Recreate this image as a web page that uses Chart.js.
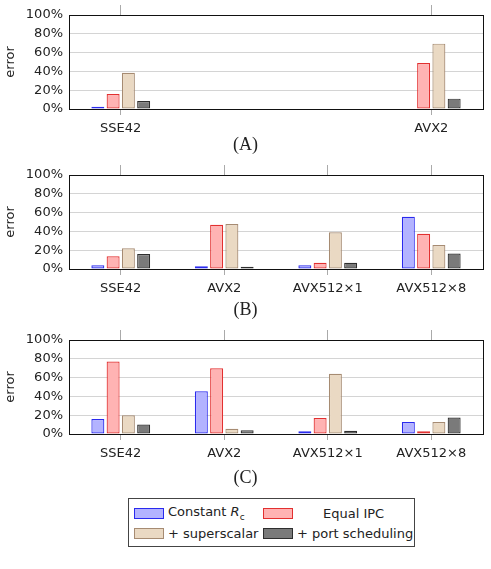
<!DOCTYPE html>
<html>
<head>
<meta charset="utf-8">
<script src="https://cdn.jsdelivr.net/npm/chart.js@4.4.0/dist/chart.umd.min.js"></script>
<style>
  body { margin: 0; background: #fff; width: 491px; height: 569px; position: relative; overflow: hidden; }
  .panel { position: absolute; left: 0; width: 491px; height: 150px; }
  .cap { position: absolute; left: 0; width: 491px; text-align: center; font-family: 'Liberation Serif', serif; font-size: 18px; color: #222; }
  #legend { position: absolute; left: 128px; top: 498px; width: 287px; height: 49px; box-sizing: border-box; border: 1px solid #444;
    font-family: 'DejaVu Sans', sans-serif; font-size: 13px; color: #222; }
  .item { position: absolute; display: flex; align-items: center; height: 18px; }
  .sw { width: 28px; height: 9px; border: 1px solid; margin-right: 4px; }
</style>
</head>
<body>
<div class="panel" style="top:0"><canvas id="chartA"></canvas></div>
<div class="cap" style="top:134px">(A)</div>
<div class="panel" style="top:160px"><canvas id="chartB"></canvas></div>
<div class="cap" style="top:299px">(B)</div>
<div class="panel" style="top:325px"><canvas id="chartC"></canvas></div>
<div class="cap" style="top:467px">(C)</div>
<div id="legend"></div>
<script>
// categories
const catsA = ['SSE42', '', '', 'AVX2'];
const catsBC = ['SSE42', 'AVX2', 'AVX512×1', 'AVX512×8'];
const yTicks = [0, 20, 40, 60, 80, 100];

const seriesNames = ['Constant', 'Equal IPC', '+ superscalar', '+ port scheduling'];

// (A) values in %, empty middle slots
const aConst = [2.5, null, null, 0.5];
const aIPC = [16, null, null, 49];
const aSuper = [38.5, null, null, 69.5];
const aPort = [8.5, null, null, 11];

// (B)
const bConst = [4, 3, 4, 55.5];
const bIPC = [13.5, 47, 6.7, 37.5];
const bSuper = [22, 47.8, 39, 25.5];
const bPort = [16, 2.5, 6.7, 16.5];

// (C)
const cConst = [16, 45.5, 2.8, 12.7];
const cIPC = [77, 70, 17, 3];
const cSuper = [20, 5.5, 64, 12.7];
const cPort = [10, 4, 3.5, 17.5];

const fills = ['#b3b3ff', '#ffb3b3', '#ead9c3', '#7a7a7a'];
const borders = ['#2a2aee', '#e23030', '#a68b72', '#2e2e2e'];

const FONT = 'DejaVu Sans';

// draws the black frame around the plot area
const framePlugin = {
  id: 'frame',
  afterDraw(chart) {
    const a = chart.chartArea, ctx = chart.ctx;
    ctx.save();
    ctx.strokeStyle = '#111';
    ctx.lineWidth = 1;
    ctx.strokeRect(Math.round(a.left) + 0.5, Math.round(a.top) + 0.5,
      Math.round(a.right - a.left), Math.round(a.bottom - a.top));
    ctx.restore();
  }
};

function makeChart(id, labels, sets) {
  const tickColor = ctx => (labels[ctx.index] ? '#aaa' : 'rgba(0,0,0,0)');
  new Chart(document.getElementById(id), {
    type: 'bar',
    data: {
      labels: labels,
      datasets: sets.map((d, i) => ({
        label: seriesNames[i],
        data: d,
        backgroundColor: fills[i],
        borderColor: borders[i],
        borderWidth: 1.2,
        borderSkipped: false,
        categoryPercentage: 0.59,
        barPercentage: 0.85,
        xAxisID: 'x'
      }))
    },
    options: {
      responsive: false,
      animation: false,
      layout: { padding: { top: 5, right: 8, left: 0, bottom: 11 } },
      plugins: { legend: { display: false }, tooltip: { enabled: false } },
      scales: {
        x: {
          position: 'bottom',
          grid: { offset: false, drawOnChartArea: false, drawTicks: true, tickLength: 6, color: tickColor },
          border: { display: false },
          ticks: { padding: 6, color: '#222', font: { family: FONT, size: 13 }, autoSkip: false, maxRotation: 0 },
          afterFit: s => { s.height = 30; }
        },
        xTop: {
          type: 'category',
          position: 'top',
          labels: labels,
          offset: true,
          grid: { offset: false, drawOnChartArea: false, drawTicks: true, tickLength: 10, color: tickColor },
          border: { display: false },
          ticks: { display: false },
          afterFit: s => { s.height = 10; }
        },
        y: {
          min: 0,
          max: 100,
          afterBuildTicks: s => { s.ticks = yTicks.map(v => ({ value: v })); },
          grid: { color: '#d4d4d4', drawTicks: false },
          border: { display: false },
          ticks: { padding: 6, color: '#222', font: { family: FONT, size: 13 }, callback: v => v + '%' },
          title: { display: true, text: 'error', color: '#222', font: { family: FONT, size: 13 }, padding: { top: 3, bottom: 0 } },
          afterFit: s => { s.width = 69; }
        }
      }
    },
    plugins: [framePlugin]
  });
}

function sizeCanvas(id) {
  const c = document.getElementById(id);
  c.width = 491; c.height = 150;
  c.style.width = '491px'; c.style.height = '150px';
}
['chartA', 'chartB', 'chartC'].forEach(sizeCanvas);

makeChart('chartA', catsA, [aConst, aIPC, aSuper, aPort]);
makeChart('chartB', catsBC, [bConst, bIPC, bSuper, bPort]);
makeChart('chartC', catsBC, [cConst, cIPC, cSuper, cPort]);

// legend, 2 x 2
const legendText = ['Constant <i>R</i><sub style="font-size:9px">c</sub>', 'Equal IPC', '+ superscalar', '+ port scheduling'];
const legendPos = [[5, 5], [134, 5], [5, 25], [134, 25]];
const legend = document.getElementById('legend');
legendText.forEach((t, i) => {
  const it = document.createElement('div');
  it.className = 'item';
  it.style.left = legendPos[i][0] + 'px';
  it.style.top = legendPos[i][1] + 'px';
  const sw = document.createElement('div');
  sw.className = 'sw';
  sw.style.background = fills[i];
  sw.style.borderColor = borders[i];
  const lbl = document.createElement('span');
  lbl.innerHTML = t;
  if (i === 1) lbl.style.marginLeft = '26px';
  it.appendChild(sw);
  it.appendChild(lbl);
  legend.appendChild(it);
});
</script>
</body>
</html>
